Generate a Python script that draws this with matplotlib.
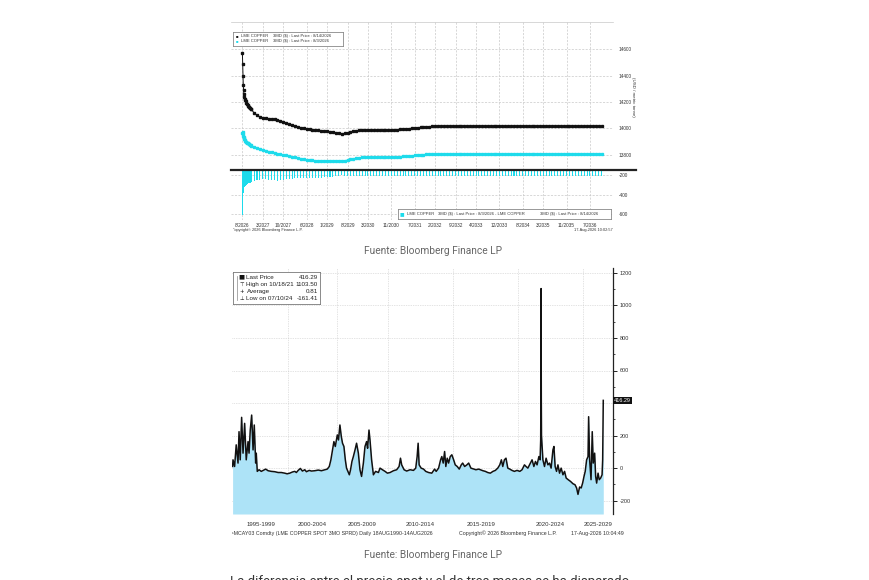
import numpy as np
import matplotlib
matplotlib.use('Agg')
import matplotlib.pyplot as plt
from matplotlib.transforms import blended_transform_factory
from matplotlib.lines import Line2D

# ---- forward curve (top chart): months after Aug-2026 ----
curve_months = [0, 0.1, 0.2, 0.3, 0.4, 0.5, 0.6, 0.8, 1.0, 1.2, 1.4, 1.6, 1.8,
                2.0, 2.2, 2.4, 2.6, 2.8] + list(range(3, 124))

curve_0814 = [14570, 14490, 14400, 14330, 14290, 14260, 14240, 14225, 14215,
              14205, 14195, 14185, 14178, 14170, 14165, 14160, 14155, 14150,
              14145, 14118, 14100, 14088, 14080, 14075, 14072, 14070, 14068, 14064,
              14058, 14050, 14040, 14030, 14022, 14015, 14010, 14005, 14000, 13996,
              13992, 13990, 13988, 13986, 13984, 13981, 13978, 13975, 13972, 13968,
              13964, 13960, 13962, 13968, 13973, 13978, 13983, 13986,
              13987, 13987, 13987, 13987, 13987, 13987, 13987, 13987, 13987, 13987, 13987,
              13989, 13991, 13993, 13995, 13997, 13999, 14001, 14003, 14005, 14007,
              14009, 14011, 14013,
              14015, 14015, 14015, 14015, 14015, 14015, 14015, 14015, 14015, 14015,
              14015, 14015, 14015, 14015, 14015, 14015, 14015, 14015, 14015, 14015,
              14015, 14015, 14015, 14015, 14015, 14015, 14015, 14015, 14015, 14015,
              14015, 14015, 14015, 14015, 14015, 14015, 14015, 14015, 14015, 14015,
              14015, 14015, 14015, 14015, 14015, 14015, 14015, 14015, 14015, 14015,
              14015, 14015, 14015, 14015, 14015, 14015, 14015, 14015, 14015]

curve_0803 = [13965, 13972, 13960, 13945, 13935, 13925, 13918, 13910, 13905,
              13900, 13895, 13892, 13889, 13886, 13883, 13880, 13877, 13874,
              13870, 13860, 13850, 13842, 13835, 13830, 13825, 13820, 13814, 13808,
              13803, 13799, 13795, 13790, 13786, 13782, 13777, 13772, 13768, 13764,
              13760, 13757,
              13756, 13756, 13756, 13756, 13756, 13756, 13756, 13756, 13756, 13756, 13756,
              13760, 13765, 13770, 13774, 13777,
              13780, 13780, 13780, 13780, 13780, 13780, 13780, 13780, 13780, 13780, 13780,
              13782, 13784, 13786, 13788, 13789, 13790, 13792, 13795, 13798, 13800,
              13802, 13804,
              13805, 13805, 13805, 13805, 13805, 13805, 13805, 13805, 13805, 13805,
              13805, 13805, 13805, 13805, 13805, 13805, 13805, 13805, 13805, 13805,
              13805, 13805, 13805, 13805, 13805, 13805, 13805, 13805, 13805, 13805,
              13805, 13805, 13805, 13805, 13805, 13805, 13805, 13805, 13805, 13805,
              13805, 13805, 13805, 13805, 13805, 13805, 13805, 13805, 13805, 13805,
              13805, 13805, 13805, 13805, 13805, 13805, 13805, 13805, 13805, 13805]

curve_tick_months = [0, 7, 14, 22, 29, 36, 43, 51, 59, 66, 73, 80, 88, 96, 103, 111, 119]
curve_tick_labels = ['8/2026', '3/2027', '10/2027', '6/2028', '1/2029', '8/2029',
                     '3/2030', '11/2030', '7/2031', '2/2032', '9/2032', '4/2033',
                     '12/2033', '8/2034', '3/2035', '11/2035', '7/2036']

# ---- spot - 3M spread history (bottom chart), x = observation index ----
spread_obs = [0, 2, 10, 18, 27, 32, 38, 45, 52, 60,
              68, 77, 82, 88, 95, 102, 108, 115, 118, 123,
              132, 143, 152, 165, 177, 193, 210, 227, 243, 260,
              272, 285, 298, 310, 318, 327, 338, 348, 360, 368,
              382, 393, 410, 427, 443, 460, 472, 482, 490, 498,
              505, 512, 522, 528, 535, 542, 548, 555, 562, 568,
              575, 582, 588, 595, 602, 610, 618, 627, 635, 643,
              652, 660, 668, 673, 680, 685, 693, 702, 713, 727,
              735, 747, 760, 772, 785, 802, 818, 830, 837, 843,
              855, 868, 885, 902, 913, 920, 925, 930, 940, 952,
              963, 977, 993, 1007, 1015, 1027, 1037, 1043, 1050, 1057,
              1063, 1070, 1077, 1085, 1093, 1102, 1110, 1120, 1130, 1140,
              1147, 1157, 1168, 1177, 1188, 1202, 1213, 1227, 1235, 1248,
              1260, 1272, 1285, 1298, 1310, 1322, 1332, 1340, 1347, 1355,
              1363, 1372, 1382, 1393, 1405, 1418, 1432, 1443, 1455, 1463,
              1472, 1485, 1493, 1502, 1510, 1518, 1527, 1533, 1536, 1537,
              1538, 1539, 1540, 1547, 1555, 1563, 1572, 1580, 1588, 1597,
              1602, 1608, 1615, 1622, 1630, 1638, 1647, 1655, 1663, 1673,
              1685, 1697, 1707, 1715, 1722, 1730, 1738, 1745, 1752, 1758,
              1765, 1772, 1775, 1780, 1787, 1793, 1798, 1805, 1810, 1815,
              1822, 1828, 1835, 1842, 1845, 1848]
spread_vals = [10, 51, 10, 143, 31, 224, 51, 312, 92, 275,
               51, 163, 92, 234, 326, 112, 265, 31, 92, -20,
               -10, -20, -14, -6, -16, -20, -22, -27, -27, -31,
               -35, -31, -24, -20, -27, -14, -2, -18, -10, -22,
               -14, -18, -16, -12, -16, -10, -6, 10, 51, 112,
               163, 133, 204, 173, 265, 194, 153, 133, 51, 0,
               -20, -41, -10, 41, 71, 110, 153, 92, -10, -51,
               31, 133, 163, 122, 234, 173, 51, -41, -20, -27,
               0, -10, -20, -31, -27, -16, -10, 10, 61, 20,
               -10, -18, -10, -14, 0, 71, 153, 20, 0, -6,
               -20, -27, -31, -6, -20, 0, 51, 71, 31, 102,
               10, 61, 31, 71, 82, 51, 20, 10, -6, 20,
               31, 10, 20, 31, 0, -6, -10, -6, -10, -16,
               -20, -27, -31, -20, -14, 0, 20, 51, 10, 51,
               61, 0, -6, -14, -20, -14, -20, -10, 20, 10,
               0, 31, 51, 10, 41, 20, 71, 51, 173, 440,
               1103.5, 430, 200, 51, 10, 61, 20, 31, 0, 112,
               133, 10, -20, 20, -31, 0, -41, -20, -61, -71,
               -82, -96, -102, -122, -161.41, -116, -122, -92, -51, -20,
               51, 71, 316, 51, -71, 224, 31, 92, -51, -92,
               -31, -71, -61, -41, 51, 416.29]

period_bounds = [274, 522, 773, 1098, 1423, 1747]
period_centers = [140, 398, 648, 935, 1240, 1585, 1820]
period_labels = ['1995-1999', '2000-2004', '2005-2009', '2010-2014',
                 '2015-2019', '2020-2024', '2025-2029']

BLACK = '#111111'
CYAN = '#1ddbeb'
FILL = '#ade3f7'
GRID = '#c8c8c8'
TXT = '#333333'
BB = ['Liberation Sans', 'DejaVu Sans']

W, H = 870, 580
fig = plt.figure(figsize=(8.7, 5.8), dpi=100)


def px_axes(x0, y0, x1, y1):
    return fig.add_axes([x0 / W, 1 - y1 / H, (x1 - x0) / W, (y1 - y0) / H])


def px_text(x, y, s, **kw):
    kw.setdefault('family', BB)
    kw.setdefault('color', TXT)
    return fig.text(x / W, 1 - y / H, s, **kw)


# ================= top chart =================
ax_t = px_axes(231, 21.7, 613.3, 170)
ax_b = px_axes(231, 170, 613.3, 220)

ax_t.plot(curve_months, curve_0814, color=BLACK, lw=0.7, marker='s', ms=1.5, zorder=3)
ax_t.plot(curve_months, curve_0803, color=CYAN, lw=0.7, marker='s', ms=1.5, zorder=3)
ax_t.set_ylim(13685, 14808)
ax_t.set_yticks([13800, 14000, 14200, 14400, 14600])
ax_t.set_yticklabels(['13800', '14000', '14200', '14400', '14600'])

spread_curve = np.array(curve_0803) - np.array(curve_0814)
ax_b.bar(curve_months, spread_curve, width=0.35, color=CYAN, zorder=3)
ax_b.set_ylim(-656, -149)
ax_b.set_yticks([-600, -400, -200])
ax_b.set_yticklabels(['-600', '-400', '-200'])

for ax in (ax_t, ax_b):
    ax.set_xlim(-3.9, 127)
    ax.set_xticks(curve_tick_months)
    ax.yaxis.tick_right()
    ax.tick_params(axis='both', length=0, labelsize=3.4, labelcolor=TXT, pad=4)
    ax.grid(True, color=GRID, lw=0.5, ls=(0, (3, 2)))
    ax.set_axisbelow(True)
    for s in ax.spines.values():
        s.set_visible(False)
    for lab in ax.get_yticklabels():
        lab.set_family(BB)
ax_t.set_xticklabels([])
ax_t.spines['top'].set_visible(True)
ax_t.spines['top'].set_color(GRID)
ax_t.spines['top'].set_linewidth(0.5)
ax_b.set_xticklabels(curve_tick_labels, family=BB)
ax_b.tick_params(axis='x', pad=2.5)

# divider between panels
fig.add_artist(Line2D([231 / W, 636 / W], [1 - 170 / H, 1 - 170 / H],
                      color='#222222', lw=1.6))

px_text(633, 97, '(USD / metric tonne)', fontsize=3.2, rotation=270,
        ha='center', va='center')

# legends of the top chart
leg1 = px_axes(233.3, 32.3, 343.3, 45.7)
leg2 = px_axes(397.7, 209.3, 611, 219)
for lg in (leg1, leg2):
    lg.set_xticks([])
    lg.set_yticks([])
    lg.set_facecolor('white')
    for s in lg.spines.values():
        s.set_color('#888888')
        s.set_linewidth(0.6)
    lg.set_zorder(5)

px_text(237.3, 35.7, '■', fontsize=3.0, color=BLACK, ha='center', va='center', zorder=6)
px_text(241, 35.7, 'LME COPPER', fontsize=3.0, va='center', zorder=6)
px_text(273, 35.7, '3MD ($) : Last Price : 8/14/2026', fontsize=3.0, va='center', zorder=6)
px_text(237.3, 41.2, '■', fontsize=3.0, color=CYAN, ha='center', va='center', zorder=6)
px_text(241, 41.2, 'LME COPPER', fontsize=3.0, va='center', zorder=6)
px_text(273, 41.2, '3MD ($) : Last Price : 8/3/2026', fontsize=3.0, va='center', zorder=6)

px_text(401.8, 214.3, '■', fontsize=5.5, color=CYAN, ha='center', va='center', zorder=6)
px_text(406.7, 214.3, 'LME COPPER', fontsize=3.0, va='center', zorder=6)
px_text(437.7, 214.3, '3MD ($) : Last Price : 8/3/2026 - LME COPPER', fontsize=3.0,
        va='center', zorder=6)
px_text(540, 214.3, '3MD ($) : Last Price : 8/14/2026', fontsize=3.0, va='center', zorder=6)

px_text(233, 230.3, '"opyright© 2026 Bloomberg Finance L.P.', fontsize=2.8, va='center')
px_text(613, 230.3, '17-Aug-2026 10:02:57', fontsize=2.8, va='center', ha='right')

px_text(433, 251, 'Fuente: Bloomberg Finance LP', family=['Roboto', 'DejaVu Sans'],
        fontsize=7.3, color='#666666', ha='center', va='center')

# ================= bottom chart =================
ax2 = px_axes(232, 268, 612.7, 514)
ax2.fill_between(spread_obs, spread_vals, -282, color=FILL, lw=0, zorder=2)
ax2.plot(spread_obs, spread_vals, color=BLACK, lw=1.1, zorder=3)
ax2.set_xlim(-3, 1895)
ax2.set_ylim(-282, 1230)
ax2.set_yticks([-200, 0, 200, 400, 600, 800, 1000, 1200])
ax2.set_yticklabels(['-200', '0', '200', '', '600', '800', '1000', '1200'])
ax2.set_yticks(np.arange(-200, 1201, 100), minor=True)
ax2.yaxis.tick_right()
ax2.set_xticks(period_bounds)
ax2.set_xticklabels([])
ax2.set_xticks(period_centers, minor=True)
ax2.set_xticklabels(period_labels, minor=True, family=BB)
ax2.tick_params(axis='x', which='both', length=0, labelsize=4.3, labelcolor=TXT, pad=6)
ax2.tick_params(axis='y', which='major', length=3, width=0.6, labelsize=4.0,
                labelcolor=TXT, pad=2)
ax2.tick_params(axis='y', which='minor', length=1.5, width=0.5)
for lab in ax2.get_yticklabels():
    lab.set_family(BB)
ax2.grid(True, which='major', color=GRID, lw=0.5, ls=(0, (1, 1.5)))
ax2.set_axisbelow(True)
for side in ('left', 'top', 'bottom'):
    ax2.spines[side].set_visible(False)
ax2.spines['right'].set_linewidth(0.9)
ax2.spines['right'].set_color('#222222')

blend = blended_transform_factory(ax2.transAxes, ax2.transData)
ax2.text(1.004, spread_vals[-1], '416.29', transform=blend, fontsize=4.0,
         color='white', va='center', ha='left', family=BB, zorder=6,
         bbox=dict(boxstyle='square,pad=0.25', fc='#111111', ec='none'))

# legend of the bottom chart
leg3 = px_axes(233.3, 272.3, 320, 304.3)
leg3.set_xticks([])
leg3.set_yticks([])
for s in leg3.spines.values():
    s.set_color('#777777')
    s.set_linewidth(0.6)
leg3.set_zorder(5)
fig.add_artist(Line2D([236.7 / W, 236.7 / W], [1 - 276 / H, 1 - 300 / H],
                      color='#888888', lw=0.5, zorder=6))
rows_y = [277.3, 284.3, 291.3, 298.3]
symbols = ['■', '⊤', '+', '⊥']
labels = ['Last Price', 'High on 10/18/21', 'Average', 'Low on 07/10/24']
values = ['416.29', '1103.50', '0.81', '-161.41']
for y, sym, lab, val in zip(rows_y, symbols, labels, values):
    px_text(241.7, y, sym, fontsize=4.6 if sym == '■' else 3.8, color=BLACK,
            ha='center', va='center', family=['DejaVu Sans'], zorder=6)
    px_text(246.5, y, lab, fontsize=4.5, color='#222222', va='center', zorder=6)
    px_text(318, y, val, fontsize=4.5, color='#222222', va='center', ha='right', zorder=6)

px_text(232, 533.3, '¹MCAY03 Comdty (LME COPPER SPOT 3MO SPRD) Daily 18AUG1990-14AUG2026',
        fontsize=3.8, va='center')
px_text(508, 533.3, 'Copyright© 2026 Bloomberg Finance L.P.', fontsize=3.8,
        va='center', ha='center')
px_text(624, 533.3, '17-Aug-2026 10:04:49', fontsize=3.8, va='center', ha='right')

px_text(433, 555, 'Fuente: Bloomberg Finance LP', family=['Roboto', 'DejaVu Sans'],
        fontsize=7.3, color='#666666', ha='center', va='center')

# start of the article text below, cut by the frame
px_text(230, 575, 'La diferencia entre el precio spot y el de tres meses se ha disparado',
        family=['Roboto', 'DejaVu Sans'], fontsize=9.5, color='#333333', va='top')

fig.savefig('out.png', dpi=100, facecolor='white')
